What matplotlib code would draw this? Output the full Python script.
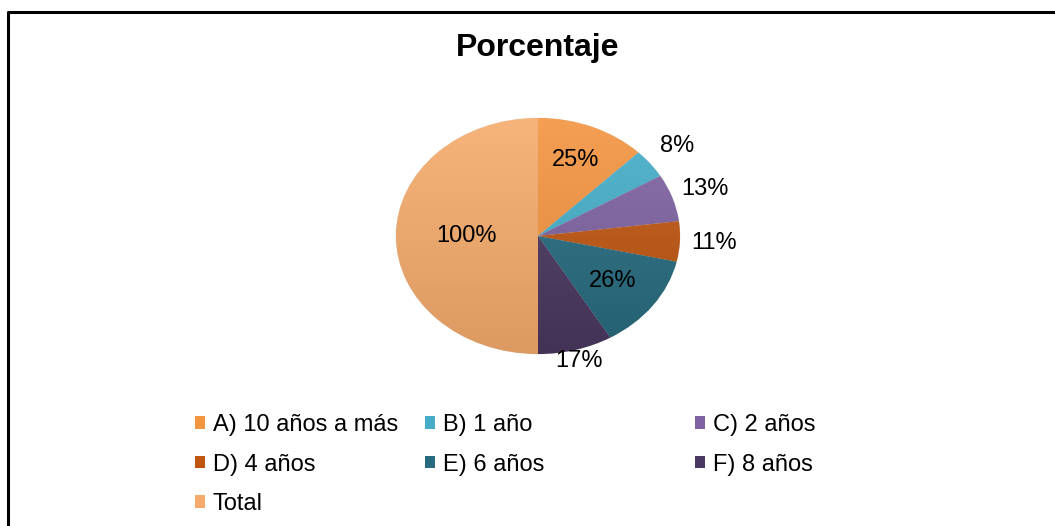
import matplotlib.pyplot as plt
import numpy as np
from matplotlib.patches import Patch
from matplotlib.lines import Line2D
from matplotlib.colors import to_rgb

plt.rcParams['font.family'] = ['Liberation Sans', 'DejaVu Sans']

# datos
categorias = ['A) 10 años a más', 'B) 1 año', 'C) 2 años', 'D) 4 años',
              'E) 6 años', 'F) 8 años', 'Total']
porcentajes = [25, 8, 13, 11, 26, 17, 100]
colores = ['#F39440', '#45ADC8', '#7E62A1', '#BE5611', '#266B7F', '#4A3860', '#F5AB6C']
# etiqueta dentro (True) o fuera del pastel
dentro = [True, False, False, False, True, False, True]

W, H = 1055, 526
fig = plt.figure(figsize=(W / 100, H / 100), dpi=100)

# pastel algo achatado, como en el original
cx, cy, rx, ry = 538, 236, 142, 118
ax = fig.add_axes([(cx - rx) / W, (H - cy - ry) / H, 2 * rx / W, 2 * ry / H])
wedges, _ = ax.pie(porcentajes, colors=colores, startangle=90, counterclock=False,
                   wedgeprops=dict(edgecolor='#E8E8E8', linewidth=0.5))
ax.set_aspect('auto')

# degradado vertical suave dentro de cada porción
t = np.linspace(0, 1, 64)[:, None]
for w, c in zip(wedges, colores):
    base = np.array(to_rgb(c))
    arriba = base + (1 - base) * 0.10
    abajo = base * 0.90
    grad = arriba[None, None, :] * (1 - t[..., None]) + abajo[None, None, :] * t[..., None]
    grad = np.repeat(grad, 2, axis=1)
    im = ax.imshow(grad, extent=(-1, 1, -1, 1), aspect='auto', zorder=w.get_zorder() + 0.1)
    im.set_clip_path(w)
ax.set_xlim(-1, 1)
ax.set_ylim(-1, 1)
ax.axis('off')

dist_in = {0: 0.7, 4: 0.65, 6: 0.5}
for i, w in enumerate(wedges):
    ang = np.deg2rad((w.theta1 + w.theta2) / 2)
    r = dist_in.get(i, 1.2) if dentro[i] else (1.1 if i == 5 else 1.24)
    ax.text(r * np.cos(ang), r * np.sin(ang), f'{porcentajes[i]}%',
            ha='center', va='center', fontsize=17, color='black', zorder=5)

fig.text(cx / W, 1 - 48 / H, 'Porcentaje', ha='center', va='center',
         fontsize=23, fontweight='bold')

# leyenda en tres columnas separadas
columnas = [[0, 3, 6], [1, 4], [2, 5]]
xs = [183, 413, 683]
for col, x in zip(columnas, xs):
    handles = [Patch(facecolor=colores[k], edgecolor='none') for k in col]
    leg = fig.legend(handles, [categorias[k] for k in col], loc='upper left',
                     bbox_to_anchor=(x / W, 1 - 402 / H), frameon=False,
                     fontsize=17, handlelength=0.45, handleheight=0.45,
                     handletextpad=0.3, labelspacing=0.75, borderpad=0)

# marco del gráfico (solo se ve el borde izquierdo y superior)
fig.add_artist(Line2D([8 / W, 8 / W, 1], [0, 1 - 12 / H, 1 - 12 / H],
                      color='black', linewidth=2.2, transform=fig.transFigure))

fig.savefig('out.png', dpi=100)
